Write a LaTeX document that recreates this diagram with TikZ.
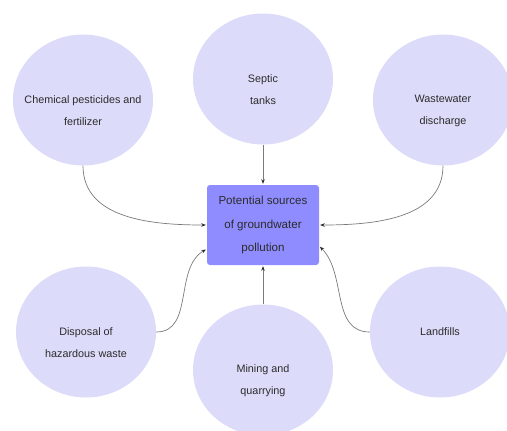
\documentclass[tikz,border=0pt]{standalone}
\usepackage{fontspec}
\setmainfont{Liberation Sans}
\usetikzlibrary{shapes.geometric,arrows.meta}
\definecolor{lilac}{HTML}{DCDCFA}
\definecolor{boxblue}{HTML}{8F8CFF}
\definecolor{ink}{HTML}{2B2B2B}
\definecolor{wire}{HTML}{7A7A7A}

\begin{document}
\begin{tikzpicture}[x=1pt,y=1pt]
    \tikzset{%
      src/.style={ellipse, fill=lilac, draw=none, minimum width=140pt,
        minimum height=131pt, inner sep=0pt},
      txt/.style={align=center, text=ink, yshift=-11pt,
        font=\fontsize{10.8}{22}\selectfont},
      hub/.style={rectangle, rounded corners=3pt, fill=boxblue, align=center,
        minimum width=112pt, minimum height=80pt, text=ink,
        font=\fontsize{11.6}{23.5}\selectfont},
      feed/.style={draw=wire, line width=0.7pt, shorten >=1pt,
        -{Stealth[length=4.5pt, width=3.5pt, color=ink]}},
    }
    \useasboundingbox (0,0) rectangle (507,-431);
    \clip (0,0) rectangle (507,-431);
    % sources
    \node[src, label={[txt]center:{Chemical pesticides and\\fertilizer}}] (chem) at (83,-100) {};
    \node[src, label={[txt]center:{Septic\\tanks}}] (septic) at (263,-79) {};
    \node[src, label={[txt]center:{Wastewater\\discharge}}] (waste) at (443,-100) {};
    \node[src, label={[txt]center:{Disposal of\\hazardous waste}}] (disp) at (86,-332) {};
    \node[src, label={[txt]center:{Mining and\\quarrying}}] (mine) at (263,-370) {};
    \node[src, label={[txt, yshift=11pt]center:{Landfills}}] (land) at (440,-332) {};
    % centre box
    \node[hub] (hub) at (263,-225) {Potential sources\\of groundwater\\pollution};

    \draw [feed] (septic.south) -- (hub.north);
    \draw [feed] (mine.north) -- (hub.south);
    \draw [feed] (chem.south) to[out=-90, in=180] (hub.west);
    \draw [feed] (waste.south) to[out=-90, in=0] (hub.east);
    \draw [feed] (disp.east) to[out=0, in=210] ([yshift=-24pt]hub.west);
    \draw [feed] (land.west) to[out=180, in=-45] ([yshift=-21pt]hub.east);
\end{tikzpicture}
\end{document}
